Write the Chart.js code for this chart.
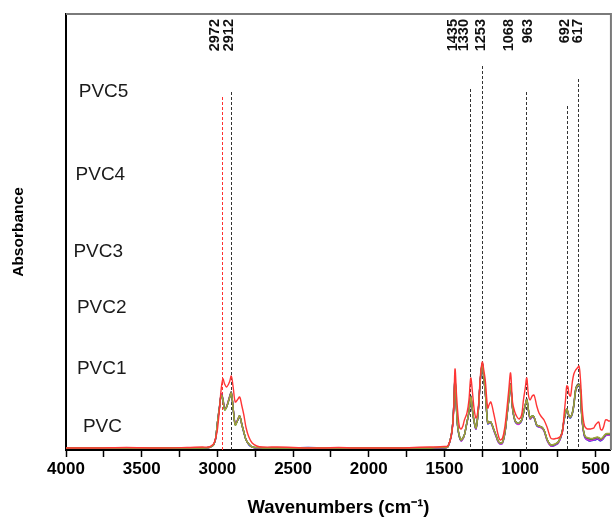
<!DOCTYPE html>
<html><head><meta charset="utf-8">
<script src="https://cdn.jsdelivr.net/npm/chart.js@4/dist/chart.umd.min.js"></script>
<style>html,body{margin:0;padding:0;background:#fff}</style>
</head><body>
<canvas id="c" width="612" height="521"></canvas>
<script>
// Wavenumbers (cm-1), descending
const wavenumbers = [4000,3800,3600,3400,3200,3100,3055,3033,3022,3011,
3000,2985,2974,2963,2952,2939,2920,2908,2895,2882,
2868,2853,2838,2825,2810,2792,2770,2740,2700,2600,
2500,2400,2300,2200,2100,2000,1900,1800,1700,1600,
1550,1500,1478,1456,1445,1438,1430,1420,1412,1401,
1390,1378,1368,1351,1338,1326,1315,1303,1291,1276,
1263,1250,1240,1230,1214,1203,1193,1175,1160,1145,
1132,1116,1100,1088,1075,1063,1050,1035,1020,1006,
990,978,966,956,945,934,920,908,890,875,
858,842,820,798,780,765,748,732,720,710,
700,692,684,677,667,655,645,633,622,611,
603,595,589,582,574,565,556,545,534,523,
513,502,491,480,469,458,447,436,425,415,
405,400];

const pvc5 = [.02,.02,.025,.02,.025,.03,.03,.05,.07,.12,
.20,.43,.62,.71,.66,.63,.68,.74,.62,.48,
.50,.53,.44,.35,.22,.13,.07,.04,.03,.03,
.025,.02,.02,.025,.02,.02,.02,.02,.025,.03,
.03,.035,.04,.13,.25,.43,.81,.55,.38,.23,
.21,.24,.30,.37,.50,.72,.58,.40,.32,.43,
.73,.88,.80,.70,.42,.46,.48,.37,.26,.15,
.10,.12,.24,.40,.60,.77,.48,.38,.33,.31,
.35,.50,.62,.72,.55,.50,.54,.55,.44,.37,
.33,.30,.22,.12,.11,.115,.12,.14,.18,.35,
.50,.64,.63,.56,.54,.68,.76,.80,.82,.84,
.74,.55,.40,.30,.24,.22,.21,.21,.21,.215,
.22,.25,.27,.28,.21,.20,.24,.30,.30,.29,
.29,.29];

const pvc4 = [.02,.02,.02,.02,.02,.02,.025,.04,.06,.12,
.27,.44,.55,.50,.40,.43,.52,.57,.40,.25,
.29,.34,.25,.18,.10,.06,.03,.025,.02,.02,
.02,.02,.02,.02,.02,.02,.02,.02,.02,.02,
.025,.025,.03,.14,.27,.45,.70,.40,.23,.14,
.10,.12,.15,.28,.38,.53,.40,.28,.22,.40,
.70,.86,.72,.58,.27,.28,.28,.21,.15,.09,
.07,.08,.18,.33,.50,.65,.42,.30,.27,.27,
.30,.37,.45,.50,.40,.32,.34,.33,.25,.24,
.23,.20,.10,.05,.055,.065,.08,.13,.20,.30,
.37,.41,.38,.34,.33,.37,.45,.60,.64,.65,
.63,.40,.28,.20,.15,.13,.125,.12,.115,.115,
.12,.125,.13,.125,.115,.12,.14,.16,.165,.165,
.165,.165];

const pvc3 = [.02,.02,.02,.02,.02,.02,.025,.04,.06,.12,
.27,.44,.55,.50,.40,.43,.52,.57,.40,.25,
.29,.34,.25,.18,.10,.06,.03,.025,.02,.02,
.02,.02,.02,.02,.02,.02,.02,.02,.02,.02,
.025,.025,.03,.14,.27,.45,.70,.40,.23,.13,
.10,.12,.15,.28,.38,.53,.40,.28,.22,.40,
.70,.86,.72,.58,.27,.28,.28,.21,.15,.09,
.07,.08,.18,.33,.50,.65,.42,.30,.27,.27,
.30,.37,.45,.50,.40,.32,.34,.33,.25,.24,
.23,.20,.10,.05,.05,.06,.08,.13,.20,.30,
.37,.41,.38,.34,.33,.37,.45,.60,.64,.65,
.63,.40,.28,.20,.15,.125,.12,.115,.11,.11,
.115,.12,.125,.12,.11,.115,.135,.155,.16,.16,
.16,.16];

const pvc2 = [.02,.02,.02,.02,.02,.02,.025,.04,.06,.12,
.27,.44,.56,.51,.41,.44,.53,.57,.41,.26,
.30,.34,.25,.18,.10,.06,.03,.02,.02,.02,
.02,.02,.02,.02,.02,.02,.02,.02,.02,.02,
.02,.025,.03,.14,.27,.45,.70,.41,.23,.13,
.09,.11,.15,.27,.38,.53,.40,.28,.21,.40,
.70,.86,.72,.58,.27,.27,.28,.20,.14,.08,
.06,.07,.17,.33,.50,.65,.42,.30,.26,.26,
.30,.37,.45,.50,.40,.31,.33,.33,.25,.23,
.22,.19,.09,.04,.045,.055,.07,.12,.19,.29,
.37,.41,.38,.34,.33,.37,.45,.60,.64,.65,
.63,.40,.27,.19,.14,.115,.105,.10,.095,.10,
.105,.11,.115,.11,.10,.105,.125,.145,.15,.15,
.15,.15];

const pvc1 = [.02,.02,.02,.02,.02,.02,.025,.04,.06,.11,
.26,.43,.55,.50,.41,.43,.52,.56,.40,.26,
.29,.33,.25,.17,.10,.05,.03,.02,.02,.02,
.02,.025,.02,.02,.02,.02,.02,.02,.02,.02,
.02,.02,.03,.13,.26,.44,.69,.40,.22,.13,
.09,.11,.15,.27,.37,.52,.39,.27,.21,.39,
.69,.85,.71,.57,.26,.27,.27,.20,.14,.08,
.06,.07,.17,.32,.49,.64,.41,.29,.26,.26,
.29,.36,.44,.49,.39,.31,.33,.32,.24,.23,
.22,.19,.09,.04,.04,.05,.07,.12,.19,.29,
.36,.40,.37,.33,.32,.36,.44,.59,.63,.64,
.62,.39,.27,.19,.13,.11,.10,.09,.09,.095,
.10,.10,.11,.10,.09,.10,.12,.14,.15,.15,
.15,.15];

const pvc0 = [.02,.02,.02,.02,.02,.02,.025,.04,.06,.12,
.27,.45,.56,.51,.41,.43,.53,.58,.41,.26,
.29,.34,.26,.18,.10,.06,.03,.02,.02,.02,
.02,.02,.02,.02,.02,.02,.02,.02,.02,.02,
.02,.025,.03,.14,.27,.46,.71,.41,.23,.14,
.10,.12,.15,.28,.38,.54,.40,.28,.22,.40,
.70,.87,.72,.58,.27,.28,.28,.21,.15,.09,
.07,.08,.18,.33,.50,.66,.42,.30,.27,.27,
.30,.37,.45,.51,.40,.32,.34,.33,.25,.24,
.23,.20,.10,.05,.05,.06,.08,.13,.20,.30,
.37,.41,.38,.34,.33,.37,.46,.61,.65,.66,
.63,.40,.28,.20,.14,.12,.115,.11,.11,.11,
.115,.12,.125,.12,.11,.115,.13,.15,.16,.16,
.16,.16];

const seriesNames = ['PVC5','PVC4','PVC3','PVC2','PVC1','PVC'];
const seriesValues = [pvc5, pvc4, pvc3, pvc2, pvc1, pvc0];
const seriesColors = ['#ff3535','#a3a23c','#2e8b2e','#d82bd8','#2b2bd0','#222222'];

const xTickValues = [4000,3750,3500,3250,3000,2750,2500,2250,2000,1750,1500,1250,1000,750,500];
const xLabelValues = [4000,3500,3000,2500,2000,1500,1000,500];

const peakLineWavenumbers = [2972,2912,1330,1253,963,692,617];
const peakLineTops = [3.53,3.58,3.61,3.84,3.58,3.44,3.71];
const peakLineColors = ['#ff3030','#333','#333','#333','#333','#333','#333'];

const peakLabelTexts = ['2972','2912','1435','1330','1253','1068','963','692','617'];
const peakLabelAt = [3016,2923,1444,1371,1259,1074,950,704,620];
const peakLabelTop = 4.31;

const sampleLabels = ['PVC5','PVC4','PVC3','PVC2','PVC1','PVC'];
const sampleLabelX = [3752,3773,3787,3764,3764,3759];
const sampleLabelY = [3.58,2.75,1.98,1.42,0.81,0.23];

const FONT = "'Liberation Sans', Arial, sans-serif";

const annot = {
  id: 'annot',
  beforeDatasetsDraw(chart) {
    const {ctx, scales:{x, y}, chartArea:a} = chart;
    ctx.save();
    ctx.lineWidth = 1;
    ctx.setLineDash([3, 2]);
    peakLineWavenumbers.forEach((w, i) => {
      const px = Math.round(x.getPixelForValue(w)) + 0.5;
      ctx.strokeStyle = peakLineColors[i];
      ctx.beginPath();
      ctx.moveTo(px, y.getPixelForValue(peakLineTops[i]));
      ctx.lineTo(px, a.bottom);
      ctx.stroke();
    });
    ctx.restore();
  },
  afterDraw(chart) {
    const {ctx, scales:{x, y}, chartArea:a} = chart;
    ctx.save();
    ctx.strokeStyle = '#7a7a7a';
    ctx.lineWidth = 2;
    ctx.beginPath();
    ctx.moveTo(a.left, a.top);
    ctx.lineTo(a.right, a.top);
    ctx.lineTo(a.right, a.bottom);
    ctx.stroke();
    ctx.fillStyle = '#111';
    ctx.font = 'bold 14.5px ' + FONT;
    ctx.textAlign = 'right';
    ctx.textBaseline = 'middle';
    peakLabelTexts.forEach((t, i) => {
      ctx.save();
      ctx.translate(x.getPixelForValue(peakLabelAt[i]), y.getPixelForValue(peakLabelTop));
      ctx.rotate(-Math.PI / 2);
      ctx.fillText(t, 0, 0);
      ctx.restore();
    });
    ctx.font = '19px ' + FONT;
    ctx.textAlign = 'center';
    ctx.fillStyle = '#1a1a1a';
    sampleLabels.forEach((t, i) => {
      ctx.fillText(t, x.getPixelForValue(sampleLabelX[i]), y.getPixelForValue(sampleLabelY[i]));
    });
    ctx.restore();
  }
};

const datasets = seriesNames.map((name, k) => ({
  label: name,
  data: wavenumbers.map((w, i) => ({x: w, y: seriesValues[k][i]})),
  borderColor: seriesColors[k],
  borderWidth: 1.4,
  pointRadius: 0,
  tension: 0.35,
  fill: false,
  order: k === 0 ? 0 : (k === 1 ? 1 : 2 + k)
}));

new Chart(document.getElementById('c'), {
  type: 'line',
  data: { datasets },
  options: {
    responsive: false,
    animation: false,
    devicePixelRatio: 1,
    layout: { padding: { top: 14, right: 1, left: 0, bottom: 0 } },
    plugins: { legend: { display: false }, tooltip: { enabled: false } },
    scales: {
      x: {
        type: 'linear',
        reverse: true,
        min: 400,
        max: 4000,
        afterBuildTicks: (s) => { s.ticks = xTickValues.map(v => ({ value: v })); },
        afterFit: (s) => { s.height = 71; },
        ticks: {
          autoSkip: false,
          maxRotation: 0,
          color: '#000',
          padding: 2,
          font: { family: FONT, size: 17, weight: 'bold' },
          callback: (v) => xLabelValues.includes(v) ? String(v) : ''
        },
        grid: { display: true, drawOnChartArea: false, drawTicks: true, tickLength: 7, tickColor: '#000', tickWidth: 1.5 },
        border: { display: true, color: '#000', width: 2 },
        title: {
          display: true,
          text: 'Wavenumbers (cm⁻¹)',
          color: '#000',
          font: { family: FONT, size: 18.5, weight: 'bold' },
          padding: { top: 0, bottom: 2 }
        }
      },
      y: {
        min: 0,
        max: 4.36,
        afterFit: (s) => { s.width = 66; },
        ticks: { display: false },
        grid: { display: false },
        border: { display: true, color: '#000', width: 2 },
        title: {
          display: true,
          text: 'Absorbance',
          color: '#000',
          font: { family: FONT, size: 15.5, weight: 'bold' },
          padding: { top: 9, bottom: 0 }
        }
      }
    }
  },
  plugins: [annot]
});
</script>
</body></html>
